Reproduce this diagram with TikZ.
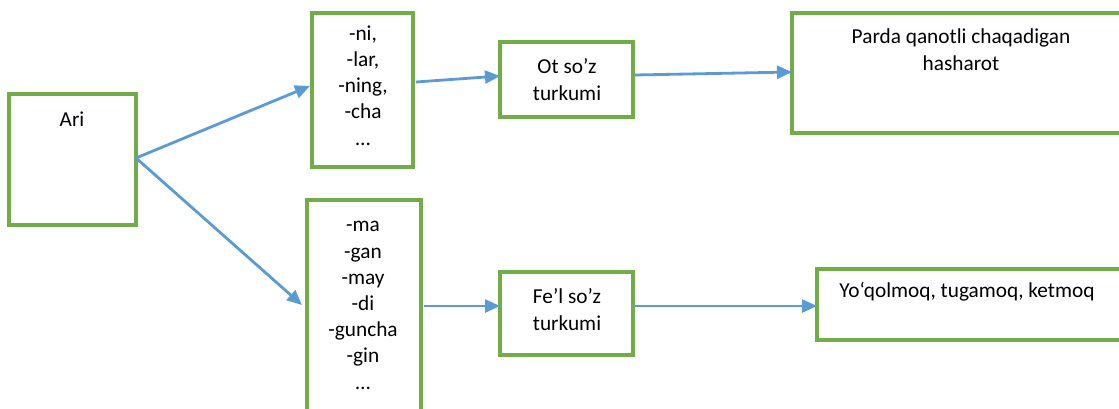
\documentclass[tikz,border=0pt]{standalone}
\usepackage{fontspec}
\setmainfont{Carlito}
\usetikzlibrary{arrows.meta}
\definecolor{boxgreen}{HTML}{70AD47}
\definecolor{arrowblue}{HTML}{5B9BD5}
\begin{document}
\begin{tikzpicture}[x=1pt,y=-1pt,
  box/.style={draw=boxgreen, line width=3.2pt, anchor=north west, inner sep=0pt, outer sep=0pt},
  txt/.style={font=\fontsize{21.3}{26.2}\selectfont, align=center, inner sep=0pt, anchor=base},
  link/.style={draw=arrowblue, line width=2.8pt, -{Triangle[length=15pt,width=13pt]}}]
  \useasboundingbox (0,0) rectangle (1119,408);
  \fill[white] (0,0) rectangle (1119,408);

  % boxes
  \node[box, minimum width=127pt, minimum height=131pt] (ari) at (9,94) {};
  \node[box, minimum width=101pt, minimum height=154pt] (nsuf) at (312,13) {};
  \node[box, minimum width=133pt, minimum height=75pt] (ot) at (500,42) {};
  \node[box, minimum width=335pt, minimum height=120pt] (parda) at (792,13) {};
  \node[box, minimum width=114pt, minimum height=220pt] (vsuf) at (307,200) {};
  \node[box, minimum width=133pt, minimum height=83pt] (fel) at (500,272) {};
  \node[box, minimum width=310pt, minimum height=71pt] (yoq) at (817,269) {};

  % texts (anchored at the baseline of their last line)
  \node[txt] (ari-t) at (72,126) {Ari};
  \node[txt] (nsuf-t) at (363,145) {-ni,\\-lar,\\-ning,\\-cha\\…};
  \node[txt] (ot-t) at (567,100) {Ot so’z\\turkumi};
  \node[txt] (parda-t) at (961,70) {Parda qanotli chaqadigan\\hasharot};
  \node[txt] (vsuf-t) at (363,389) {-ma\\-gan\\-may\\-di\\-guncha\\-gin\\…};
  \node[txt] (fel-t) at (567,330) {Fe’l so’z\\turkumi};
  \node[txt] (yoq-t) at (967,297) {Yo‘qolmoq, tugamoq, ketmoq};

  % connector end points
  \coordinate (fork) at (136,158);
  \coordinate (nsuf-in) at (310,86);
  \coordinate (vsuf-in) at (302,305);
  \coordinate (nsuf-out) at (416,82);
  \coordinate (ot-in) at (500,76);
  \coordinate (ot-out) at (635,75);
  \coordinate (parda-in) at (792,72);
  \coordinate (vsuf-out) at (424,306);
  \coordinate (fel-in) at (500,306);
  \coordinate (fel-out) at (634,306);
  \coordinate (yoq-in) at (817,306);

  % connectors
  \draw[link] (fork) -- (nsuf-in);
  \draw[link] (fork) -- (vsuf-in);
  \draw[link] (nsuf-out) -- (ot-in);
  \draw[link] (ot-out) -- (parda-in);
  \draw[link] (vsuf-out) -- (fel-in);
  \draw[link] (fel-out) -- (yoq-in);
\end{tikzpicture}
\end{document}
